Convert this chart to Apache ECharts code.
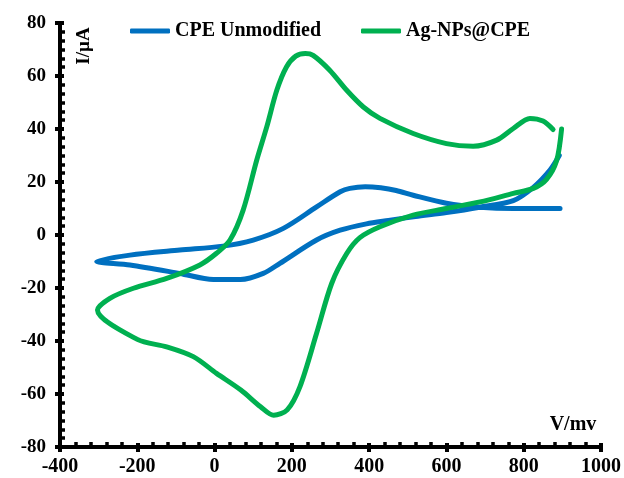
<!DOCTYPE html>
<html>
<head>
<meta charset="utf-8">
<script src="https://cdn.jsdelivr.net/npm/echarts@6/dist/echarts.min.js"></script>
<style>html,body{margin:0;padding:0;background:#fff;}#c{width:624px;height:478px;}</style>
</head>
<body>
<div id="c"></div>
<script>
var seriesNames = ['CPE Unmodified', 'Ag-NPs@CPE'];
var xTicks = { min: -400, max: 1000, interval: 200 };
var yTicks = { min: -80, max: 80, interval: 20 };
var xName = 'V/mv';
var yName = 'I/\u00b5A';

var cpeV = [894, 773, 686, 600, 514, 470, 430, 390, 350, 325, 264, 178, 100, 22, -90, -219, -305, -219, -90, -3, 67, 126, 169, 264, 325, 393, 450, 520, 600, 686, 773, 825, 868, 892];
var cpeI = [10, 10, 10.5, 12, 15, 16.8, 17.8, 18.2, 17.6, 16.3, 10.6, 2.5, -1.9, -4.2, -5.7, -7.6, -10, -11.3, -14.5, -16.8, -16.8, -14.5, -10.7, -1.9, 1.8, 4.2, 5.5, 7, 8.5, 10.5, 13, 18, 24.5, 30];

var agV = [898, 885, 859, 825, 773, 687, 600, 514, 428, 376, 342, 303, 264, 221, 188, 153, 119, 68, 5, -55, -124, -200, -303, -271, -210, -124, -38, 5, 40, 74, 109, 135, 161, 186, 210, 235, 255, 298, 342, 385, 428, 514, 600, 669, 730, 773, 816, 850, 876];
var agI = [40, 28, 21, 17.6, 15.7, 12.5, 10, 7.5, 3.1, -1, -7, -18.3, -37.1, -57.2, -66, -68, -64.8, -58.5, -52.2, -45.9, -42.2, -39.4, -28.3, -23.9, -20.1, -16.4, -11.3, -6.9, -1.9, 9.4, 28.2, 40.8, 54.6, 63.4, 67.5, 68.5, 67.8, 62.2, 54.6, 48.3, 44, 38.3, 34.5, 33.5, 35.8, 40.2, 44, 43, 39.8];

function pairs(a, b) { return a.map(function (v, i) { return [v, b[i]]; }); }

var FONT = 'Liberation Serif';
var chart = echarts.init(document.getElementById('c'), null, { renderer: 'canvas' });

function mainAxis(t, labelSize, margin) {
  return {
    type: 'value', min: t.min, max: t.max, interval: t.interval,
    axisLine: { show: true, onZero: false, lineStyle: { color: '#000', width: 4 } },
    axisTick: { show: true, inside: false, length: 5, lineStyle: { color: '#000', width: 4 } },
    axisLabel: { show: true, color: '#000', fontFamily: FONT, fontWeight: 'bold', fontSize: labelSize, margin: margin,
      formatter: function (v) { return String(v); } },
    splitLine: { show: false }
  };
}
function overlayAxis(t, minorSplit) {
  return {
    type: 'value', min: t.min, max: t.max, interval: t.interval,
    axisLine: { show: false, onZero: false },
    axisTick: { show: true, inside: true, length: 4, lineStyle: { color: '#000', width: 4 } },
    minorTick: { show: true, splitNumber: minorSplit, length: 5, lineStyle: { color: '#000', width: 3.5 } },
    axisLabel: { show: false },
    splitLine: { show: false }
  };
}

var xa1 = mainAxis(xTicks, 20, 10); xa1.position = 'bottom';
var xa2 = overlayAxis(xTicks, 5); xa2.position = 'bottom';
var ya1 = mainAxis(yTicks, 19, 14); ya1.position = 'left';
var ya2 = overlayAxis(yTicks, 6); ya2.position = 'left';

var option = {
  animation: false,
  backgroundColor: '#fff',
  grid: { left: 60, right: 23, top: 23, bottom: 31, containLabel: false },
  xAxis: [xa1, xa2],
  yAxis: [ya1, ya2],
  legend: [
    { data: [seriesNames[0]], left: 130, top: 21, padding: 0, icon: 'roundRect', itemWidth: 40, itemHeight: 5, itemGap: 0,
      textStyle: { color: '#000', fontFamily: FONT, fontWeight: 'bold', fontSize: 20 } },
    { data: [seriesNames[1]], left: 361, top: 21, padding: 0, icon: 'roundRect', itemWidth: 40, itemHeight: 5, itemGap: 0,
      textStyle: { color: '#000', fontFamily: FONT, fontWeight: 'bold', fontSize: 20 } }
  ],
  graphic: [
    { type: 'text', x: 84, y: 46, rotation: Math.PI / 2,
      style: { text: yName, fill: '#000', font: 'bold 19px "' + FONT + '"', align: 'center', verticalAlign: 'middle' } },
    { type: 'text', x: 573, y: 425,
      style: { text: xName, fill: '#000', font: 'bold 20px "' + FONT + '"', align: 'center', verticalAlign: 'middle' } }
  ],
  series: [
    { name: seriesNames[0], type: 'line', xAxisIndex: 0, yAxisIndex: 0, data: pairs(cpeV, cpeI),
      showSymbol: false, symbol: 'none', smooth: 0.3, color: '#0070C0',
      lineStyle: { color: '#0070C0', width: 5, cap: 'round', join: 'round' } },
    { name: seriesNames[1], type: 'line', xAxisIndex: 0, yAxisIndex: 0, data: pairs(agV, agI),
      showSymbol: false, symbol: 'none', smooth: 0.3, color: '#00B050',
      lineStyle: { color: '#00B050', width: 5, cap: 'round', join: 'round' } }
  ]
};
chart.setOption(option);
</script>
</body>
</html>
